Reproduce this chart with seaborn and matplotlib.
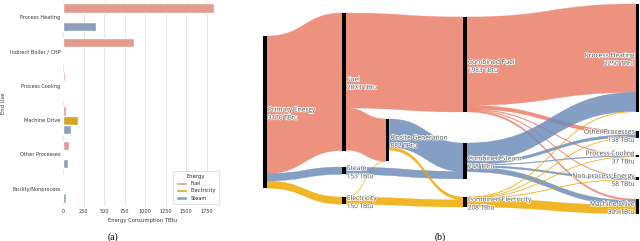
import numpy as np
import pandas as pd
import matplotlib
matplotlib.use('Agg')
import matplotlib.pyplot as plt
import matplotlib.patheffects as pe
from matplotlib.path import Path
from matplotlib.patches import PathPatch, Rectangle
import seaborn as sns

# --- (a) end use bar chart data ---
end_uses = ['Process Heating', 'Indirect Boiler / CHP', 'Process Cooling',
            'Machine Drive', 'Other Processes', 'Facility/Nonprocess']
fuel_use = [1843, 868, 16, 33, 75, 14]
electricity_use = [10, 0, 5, 175, 0, 8]
steam_use = [395, 0, 14, 94, 57, 33]
energy_types = ['Fuel', 'Electricity', 'Steam']

# --- (b) sankey data ---
node_names = ['Primary Energy', 'Fuel', 'Steam', 'Electricity', 'Onsite Generation',
              'Combined Fuel', 'Combined Steam', 'Combined Electricity',
              'Process Heating', 'Other Processes', 'Process Cooling',
              'Non-process Energy', 'Machine Drive']
link_source = [0, 0, 0, 1, 1, 3, 3, 2, 4, 4,
               5, 5, 5, 5, 5, 6, 6, 6, 6, 6, 7, 7, 7, 7, 7]
link_target = [1, 2, 3, 5, 4, 4, 7, 6, 6, 7,
               8, 9, 10, 11, 12, 8, 9, 10, 11, 12, 8, 9, 10, 11, 12]
link_value = [2873, 153, 150, 1983, 880, 2, 148, 153, 595, 60,
              1845, 75, 16, 14, 33, 395, 57, 15, 36, 98, 10, 6, 6, 8, 178]
link_carrier = ['Fuel', 'Steam', 'Electricity', 'Fuel', 'Fuel', 'Electricity', 'Electricity',
                'Steam', 'Steam', 'Electricity'] + ['Fuel'] * 5 + ['Steam'] * 5 + ['Electricity'] * 5

# colours
bar_colors = {'Fuel': '#F0927F', 'Electricity': '#F2B400', 'Steam': '#849EC6'}
flow_colors = {'Fuel': '#EC7F6A', 'Electricity': '#EFA900', 'Steam': '#6E8DBA'}

# sankey layout (pixel space of the figure)
node_column = [0, 1, 1, 1, 2, 3, 3, 3, 4, 4, 4, 4, 4]
column_x = [263.3, 342.3, 386.0, 463.3, 636.0]
node_top = [36, 13, 167, 197, 119, 17, 143, 197, 4, 131, 155, 177, 199]
node_w = 3.4
px_per_tbtu = 0.0479

sns.set_theme(style='whitegrid')
plt.rcParams['font.family'] = ['DejaVu Sans']

fig = plt.figure(figsize=(6.4, 2.41), dpi=100)

# ---------------- (a) bar chart ----------------
bars = pd.DataFrame({'End Use': end_uses, 'Fuel': fuel_use,
                     'Electricity': electricity_use, 'Steam': steam_use})
bars = bars.melt(id_vars='End Use', var_name='Energy', value_name='Energy Consumption TBtu')

ax = fig.add_axes([63.3 / 640, 35 / 241, (221.7 - 63.3) / 640, 206 / 241])
sns.barplot(data=bars, y='End Use', x='Energy Consumption TBtu', hue='Energy',
            hue_order=energy_types, palette=bar_colors, ax=ax)
ax.set_xticks(np.arange(0, 2000, 250))
ax.tick_params(axis='both', labelsize=3.6, length=0, pad=2, labelcolor='#333333')
ax.set_xlabel('Energy Consumption TBtu', fontsize=3.8, labelpad=3, color='#333333')
ax.set_ylabel('End Use', fontsize=3.8, labelpad=3, color='#333333')
ax.grid(axis='x', color='#e6e6e6', linewidth=0.7)
sns.despine(ax=ax, left=True, bottom=True)
sns.move_legend(ax, 'lower right', title='Energy', fontsize=3.6, title_fontsize=3.8,
                frameon=True, borderpad=0.6, labelspacing=0.45, handlelength=2.2)
ax.get_legend().get_frame().set_linewidth(0.5)

# ---------------- (b) sankey ----------------
sx = fig.add_axes([255 / 640, 0, 385 / 640, 1])
sx.set_xlim(255, 640)
sx.set_ylim(241, 0)
sx.axis('off')

n = len(node_names)
val_in = np.zeros(n)
val_out = np.zeros(n)
for s, t, v in zip(link_source, link_target, link_value):
    val_out[s] += v
    val_in[t] += v
node_value = np.maximum(val_in, val_out)
node_h = node_value * px_per_tbtu
node_x = np.array([column_x[c] for c in node_column])
node_c = np.array(node_top) + node_h / 2

# port stacking: outgoing ordered by target centre, incoming by source centre
out_off = {}
in_off = {}
for i in range(n):
    outs = sorted([k for k in range(len(link_value)) if link_source[k] == i],
                  key=lambda k: node_c[link_target[k]])
    y = node_top[i]
    for k in outs:
        out_off[k] = y
        y += link_value[k] * px_per_tbtu
    ins = sorted([k for k in range(len(link_value)) if link_target[k] == i],
                 key=lambda k: node_c[link_source[k]])
    y = node_top[i]
    for k in ins:
        in_off[k] = y
        y += link_value[k] * px_per_tbtu

for k in range(len(link_value)):
    s, t = link_source[k], link_target[k]
    w = link_value[k] * px_per_tbtu
    x0 = node_x[s] + node_w
    x1 = node_x[t]
    xm = (x0 + x1) / 2
    y0 = out_off[k]
    y1 = in_off[k]
    verts = [(x0, y0), (xm, y0), (xm, y1), (x1, y1),
             (x1, y1 + w), (xm, y1 + w), (xm, y0 + w), (x0, y0 + w), (x0, y0)]
    codes = [Path.MOVETO, Path.CURVE4, Path.CURVE4, Path.CURVE4,
             Path.LINETO, Path.CURVE4, Path.CURVE4, Path.CURVE4, Path.CLOSEPOLY]
    col = flow_colors[link_carrier[k]]
    sx.add_patch(PathPatch(Path(verts, codes), facecolor=col, edgecolor=col,
                           linewidth=0.25, alpha=0.85, zorder=1))

halo = [pe.withStroke(linewidth=1.0, foreground='white')]
for i in range(n):
    sx.add_patch(Rectangle((node_x[i], node_top[i]), node_w, max(node_h[i], 1.0),
                           facecolor='black', edgecolor='none', zorder=3))
    if node_column[i] < 4:
        tx, ha = node_x[i] + node_w + 1.2, 'left'
    else:
        tx, ha = node_x[i] - 1.5, 'right'
    sx.text(tx, node_c[i] - 2, node_names[i], ha=ha, va='center', fontsize=4.8,
            family='Open Sans', color='#4a4a4a', path_effects=halo, zorder=4)
    sx.text(tx, node_c[i] + 6, f'{node_value[i]:.0f} TBtu', ha=ha, va='center',
            fontsize=4.6, family='Open Sans', color='#4a4a4a', path_effects=halo, zorder=4)

# captions
fig.text(112.5 / 640, 1 - 237 / 241, '(a)', ha='center', va='center',
         fontsize=7, family='Liberation Serif', color='black')
fig.text(440.5 / 640, 1 - 237 / 241, '(b)', ha='center', va='center',
         fontsize=7, family='Liberation Serif', color='black')

fig.savefig('out.png', dpi=100)
